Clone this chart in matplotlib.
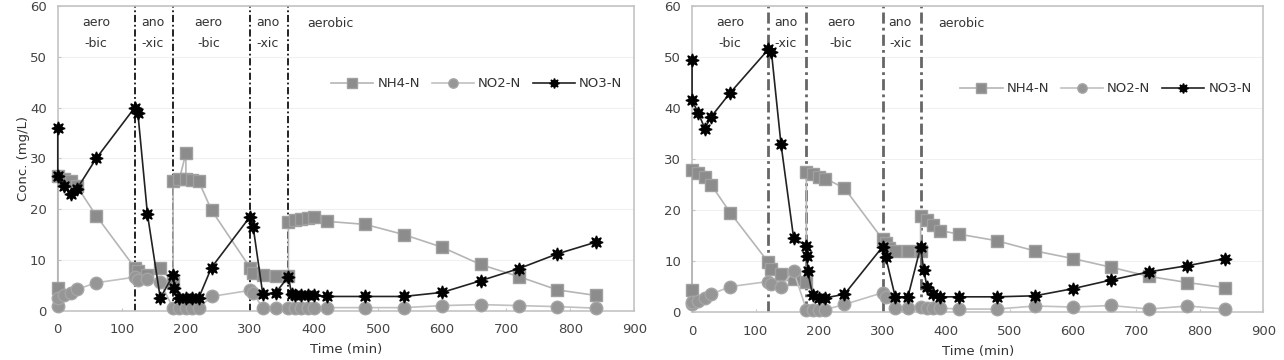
import matplotlib
matplotlib.use("Agg")
import matplotlib.pyplot as plt

# phase boundaries (min) and phase labels
phase_lines = [120, 180, 300, 360]
phase_labels = [("aero\n-bic", 60), ("ano\n-xic", 148), ("aero\n-bic", 235), ("ano\n-xic", 328), ("aerobic", 425)]

# ---- left panel ----
t_nh4_a = [0, 0, 10, 20, 30, 60, 120, 125, 140, 160, 180, 180, 190, 200, 200, 210, 220, 240, 300, 305, 320, 340,
           360, 360, 370, 380, 390, 400, 420, 480, 540, 600, 660, 720, 780, 840]
nh4_a = [4.5, 26.5, 26, 25.5, 24.5, 18.7, 8.5, 7.8, 7, 8.5, 5.5, 25.5, 26, 31, 26, 25.8, 25.5, 19.8, 8.5, 7.5, 7, 6.8,
         6.8, 17.5, 17.8, 18, 18.3, 18.5, 17.6, 17, 15, 12.5, 9.1, 6.7, 4.1, 3]
t_no2_a = [0, 0, 10, 20, 30, 60, 120, 125, 140, 160, 180, 190, 200, 210, 220, 240, 300, 305, 320, 340, 360, 370,
           380, 390, 400, 420, 480, 540, 600, 660, 720, 780, 840]
no2_a = [1, 2.5, 3, 3.5, 4.2, 5.5, 6.6, 6, 6.3, 5.6, 0.5, 0.5, 0.5, 0.5, 0.5, 2.8, 4, 3.5, 0.5, 0.5, 0.5, 0.5,
         0.5, 0.5, 0.5, 0.6, 0.6, 0.6, 1, 1.2, 1, 0.8, 0.5]
t_no3_a = [0, 0, 10, 20, 30, 60, 120, 125, 140, 160, 180, 182, 190, 200, 210, 220, 240, 300, 305, 320, 340, 360,
           365, 370, 380, 390, 400, 420, 480, 540, 600, 660, 720, 780, 840]
no3_a = [36, 26.5, 24.5, 23, 24, 30, 40, 39, 19, 2.5, 7, 4.5, 2.5, 2.5, 2.5, 2.5, 8.5, 18.5, 16.5, 3.3, 3.5, 6.7,
         3.3, 3, 3, 3, 3, 2.8, 2.8, 2.8, 3.6, 5.9, 8.3, 11.2, 13.5]

# ---- right panel ----
t_nh4_b = [0, 0, 10, 20, 30, 60, 120, 125, 140, 160, 180, 180, 190, 200, 210, 240, 300, 305, 310, 320, 340, 360,
           360, 370, 380, 390, 420, 480, 540, 600, 660, 720, 780, 840]
nh4_b = [4.3, 27.8, 27.2, 26.5, 25, 19.5, 9.8, 8.5, 7.5, 6.5, 6, 27.5, 27, 26.5, 26.2, 24.3, 14.3, 13.5, 12.5, 12,
         12, 12, 18.8, 18, 17, 16, 15.3, 14, 12, 10.5, 8.8, 7, 5.8, 4.8]
t_no2_b = [0, 0, 10, 20, 30, 60, 120, 125, 140, 160, 180, 190, 200, 210, 240, 300, 305, 320, 340, 360, 370, 380,
           390, 420, 480, 540, 600, 660, 720, 780, 840]
no2_b = [1.5, 2, 2.2, 2.8, 3.5, 5, 6, 5.5, 5, 8, 0.5, 0.5, 0.5, 0.5, 1.5, 3.8, 3, 0.8, 0.8, 1, 0.8, 0.8,
         0.8, 0.6, 0.6, 1.2, 1, 1.3, 0.6, 1.2, 0.6]
t_no3_b = [0, 0, 10, 20, 30, 60, 120, 125, 140, 160, 180, 181, 182, 190, 200, 210, 240, 300, 305, 320, 340, 360,
           365, 370, 380, 390, 420, 480, 540, 600, 660, 720, 780, 840]
no3_b = [49.5, 41.5, 39, 36, 38.3, 43, 51.5, 51, 33, 14.5, 13, 11, 8, 3.3, 2.8, 2.8, 3.5, 12.8, 10.8, 3, 3, 12.8,
         8.2, 5, 3.5, 3, 3, 3, 3.2, 4.6, 6.3, 7.9, 9.1, 10.5]

fig = plt.figure(figsize=(12.84, 3.6), dpi=100)
ax1 = fig.add_axes([0.045, 0.137, 0.449, 0.846])
ax2 = fig.add_axes([0.539, 0.133, 0.445, 0.850])


def draw(ax, nh4, no2, no3, vcolor, vlw, legy):
    ax.plot(nh4[0], nh4[1], '-s', color='#b5b5b5', lw=1.2, mfc='#8c8c8c', mec='#a0a0a0',
            ms=9, label='NH4-N', zorder=3, clip_on=False)
    ax.plot(no2[0], no2[1], '-o', color='#c0c0c0', lw=1.2, mfc='#969696', mec='#a5a5a5',
            ms=9, label='NO2-N', zorder=3, clip_on=False)
    ax.plot(no3[0], no3[1], '-', marker=(8, 1, 0), color='#222222', lw=1.2, mfc='black', mec='black',
            ms=9.5, label='NO3-N', zorder=4, clip_on=False)
    for x in phase_lines:
        ax.axvline(x, color=vcolor, lw=vlw, ls=(0, (4, 1.5, 1, 1.5)), zorder=2)
    for txt, x in phase_labels:
        if '\n' in txt:
            top, bot = txt.split('\n')
            ax.text(x, 56.8, top, ha='center', va='center', fontsize=9, color='#333333')
            ax.text(x, 52.6, bot, ha='center', va='center', fontsize=9, color='#333333')
        else:
            ax.text(x, 56.6, txt, ha='center', va='center', fontsize=9, color='#333333')
    ax.set_xlim(0, 900)
    ax.set_ylim(0, 60)
    ax.set_xticks(range(0, 901, 100))
    ax.set_yticks(range(0, 61, 10))
    ax.yaxis.grid(True, color='#f0f0f0', lw=0.8)
    ax.set_axisbelow(True)
    for s in ax.spines.values():
        s.set_color('#c4c4c4')
        s.set_linewidth(1.2)
    ax.tick_params(labelsize=9.5, labelcolor='#444444', color='#c4c4c4', length=2, direction='in')
    ax.tick_params(axis='x', pad=9)
    ax.tick_params(axis='y', pad=8)
    ax.set_xlabel('Time (min)', fontsize=9.5, color='#333333', labelpad=5)
    ax.legend(loc='center right', bbox_to_anchor=(1.0, legy), ncol=3, frameon=False, fontsize=9.5,
              handlelength=3.2, columnspacing=0.9, handletextpad=0.3, labelcolor='#333333',
              markerscale=0.75)


draw(ax1, (t_nh4_a, nh4_a), (t_no2_a, no2_a), (t_no3_a, no3_a), '#111111', 1.3, 0.745)
draw(ax2, (t_nh4_b, nh4_b), (t_no2_b, no2_b), (t_no3_b, no3_b), '#666666', 2.0, 0.73)
ax1.set_ylabel('Conc. (mg/L)', fontsize=9.5, color='#333333', labelpad=0)

fig.savefig('out.png', dpi=100)
